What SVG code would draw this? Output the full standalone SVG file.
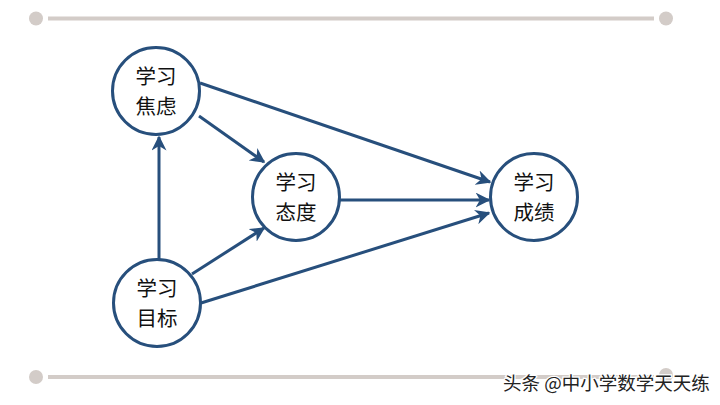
<svg xmlns="http://www.w3.org/2000/svg" width="720" height="405" viewBox="0 0 720 405">
<defs>
<style>
.bar{stroke:#d3ccc8;stroke-width:4;fill:none}
.dot{fill:#d3ccc8}
.node circle{fill:#fff;stroke:#274f7c;stroke-width:3}
.node text{font-family:"Noto Sans CJK SC","Noto Sans",sans-serif;font-size:20.5px;fill:#111;text-anchor:middle}
.edge{stroke:#274f7c;stroke-width:3;fill:none;marker-end:url(#ah)}
.wm{font-family:"Noto Sans CJK SC","Noto Sans",sans-serif;font-size:18.5px;fill:#222;stroke:#fff;stroke-width:2.5;paint-order:stroke}
</style>
<marker id="ah" viewBox="0 0 10 10" refX="9" refY="5" markerWidth="5" markerHeight="5" orient="auto" markerUnits="strokeWidth">
<path d="M0,0 L10,5 L0,10 L3,5 Z" fill="#274f7c"/>
</marker>
</defs>
<rect width="720" height="405" fill="#fff"/>
<g id="decor">
<line class="bar" x1="48" y1="18.5" x2="654" y2="18.5"/>
<circle class="dot" cx="36" cy="18.5" r="7"/>
<circle class="dot" cx="666" cy="18.5" r="7"/>
<line class="bar" x1="48" y1="377" x2="654" y2="377"/>
<circle class="dot" cx="36" cy="377" r="7"/>
<circle class="dot" cx="666" cy="375" r="7"/>
</g>
<g id="connectors">
<line class="edge" x1="159" y1="260" x2="159" y2="137"/>
<line class="edge" x1="199" y1="116" x2="264" y2="162"/>
<line class="edge" x1="200" y1="83" x2="490" y2="182"/>
<line class="edge" x1="339" y1="200" x2="489" y2="200"/>
<line class="edge" x1="192" y1="274" x2="264" y2="228"/>
<line class="edge" x1="201" y1="303" x2="489" y2="213"/>
</g>
<g id="node-jiaolv" class="node">
<circle cx="156" cy="91" r="43.5"/>
<text x="156" y="84">学习<tspan x="156" dy="30">焦虑</tspan></text>
</g>
<g id="node-taidu" class="node">
<circle cx="296" cy="197" r="43.5"/>
<text x="296" y="190">学习<tspan x="296" dy="30">态度</tspan></text>
</g>
<g id="node-chengji" class="node">
<circle cx="534" cy="197" r="43.5"/>
<text x="534" y="190">学习<tspan x="534" dy="30">成绩</tspan></text>
</g>
<g id="node-mubiao" class="node">
<circle cx="157" cy="303" r="43.5"/>
<text x="157" y="296">学习<tspan x="157" dy="30">目标</tspan></text>
</g>
<text class="wm" x="503" y="390">头条 @中小学数学天天练</text>
</svg>
